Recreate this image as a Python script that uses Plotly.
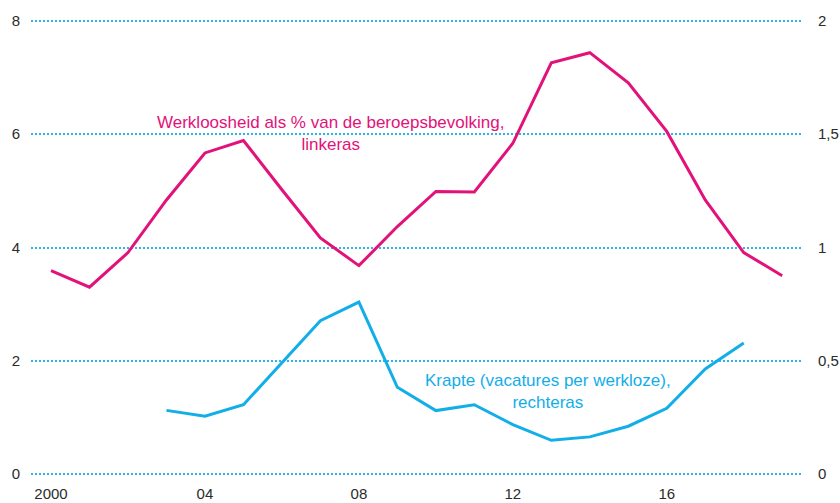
import plotly.graph_objects as go

MAGENTA = "#E2127A"
CYAN = "#12AEE8"
GRID = "#2BB5EA"
TEXT = "#2B2B2B"
FONT = "Liberation Sans, Arial, sans-serif"

years = list(range(2000, 2020))
unemployment = [3.59, 3.30, 3.91, 4.84, 5.67, 5.89, 5.02, 4.17, 3.68, 4.37,
                4.99, 4.98, 5.84, 7.26, 7.44, 6.91, 6.05, 4.84, 3.91, 3.50]

tightness_years = list(range(2003, 2019))
tightness = [0.281, 0.255, 0.306, 0.49, 0.677, 0.759, 0.383, 0.28, 0.306, 0.218,
             0.149, 0.164, 0.211, 0.29, 0.464, 0.578]

x_tickvals = [2000, 2004, 2008, 2012, 2016]
x_ticktext = ["2000", "04", "08", "12", "16"]
left_ticks = [0, 2, 4, 6, 8]
right_tickvals = [0, 0.5, 1, 1.5, 2]
right_ticktext = ["0", "0,5", "1", "1,5", "2"]

fig = go.Figure()

fig.add_trace(
    go.Scatter(
        x=years,
        y=unemployment,
        mode="lines",
        line={"color": MAGENTA, "width": 3},
        yaxis="y",
        hoverinfo="skip",
    )
)

fig.add_trace(
    go.Scatter(
        x=tightness_years,
        y=tightness,
        mode="lines",
        line={"color": CYAN, "width": 3},
        yaxis="y2",
        hoverinfo="skip",
    )
)

fig.add_annotation(
    x=2007.25,
    y=6.02,
    xref="x",
    yref="y",
    text="Werkloosheid als % van de beroepsbevolking,<br>linkeras",
    showarrow=False,
    font={"color": MAGENTA, "size": 17, "family": FONT},
    align="center",
)

fig.add_annotation(
    x=2012.91,
    y=1.45,
    xref="x",
    yref="y",
    text="Krapte (vacatures per werkloze),<br>rechteras",
    showarrow=False,
    font={"color": CYAN, "size": 17, "family": FONT},
    align="center",
)

fig.update_layout(
    width=840,
    height=503,
    template="none",
    showlegend=False,
    paper_bgcolor="white",
    plot_bgcolor="white",
    margin={"l": 31, "r": 37, "t": 19, "b": 26.5},
    font={"family": FONT, "color": TEXT, "size": 15},
    xaxis={
        "range": [1999.48, 2019.54],
        "tickvals": x_tickvals,
        "ticktext": x_ticktext,
        "showgrid": False,
        "zeroline": False,
        "showline": False,
        "ticks": "",
        "ticklabelstandoff": 7,
    },
    yaxis={
        "range": [-0.035, 8.035],
        "tickvals": left_ticks,
        "ticktext": [str(v) for v in left_ticks],
        "showgrid": True,
        "gridcolor": GRID,
        "gridwidth": 1.5,
        "griddash": "2px,2px",
        "zeroline": False,
        "showline": False,
        "ticks": "",
        "ticklabelstandoff": 10,
    },
    yaxis2={
        "range": [-0.00875, 2.00875],
        "overlaying": "y",
        "side": "right",
        "tickvals": right_tickvals,
        "ticktext": right_ticktext,
        "showgrid": False,
        "zeroline": False,
        "showline": False,
        "ticks": "",
        "ticklabelstandoff": 14,
    },
)

fig.write_html(
    "out.html",
    config={"displayModeBar": False},
    post_script="document.body.style.margin = '0px';",
)
